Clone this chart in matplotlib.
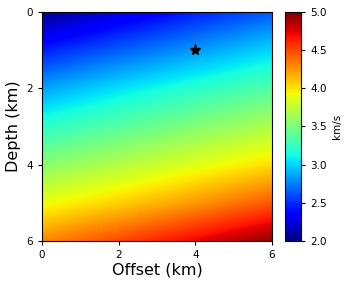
import matplotlib
matplotlib.use("Agg")
import matplotlib.pyplot as plt
import numpy as np

# velocity at grid nodes (km/s); rows = depth, cols = offset
offset_nodes = [0, 2, 4, 6]
depth_nodes = [0, 1, 2, 3, 4, 5, 6]
velocity = [
    [2.02, 2.24, 2.45, 2.63],
    [2.45, 2.64, 2.82, 3.00],
    [2.85, 3.03, 3.19, 3.34],
    [3.20, 3.36, 3.52, 3.68],
    [3.54, 3.70, 3.86, 4.02],
    [3.90, 4.06, 4.24, 4.45],
    [4.30, 4.50, 4.72, 4.95],
]
source_x = [4.0]
source_z = [1.0]
cbar_ticks = [2.0, 2.5, 3.0, 3.5, 4.0, 4.5, 5.0]

fig = plt.figure(figsize=(3.49, 2.89), dpi=100)
ax = fig.add_axes([0.1203, 0.1661, 0.659, 0.7924])
cax = fig.add_axes([0.8166, 0.1661, 0.0458, 0.7924])

# node spacing so pixel centres sit on the nodes
dx = offset_nodes[1] - offset_nodes[0]
dz = depth_nodes[1] - depth_nodes[0]
ext = [offset_nodes[0] - dx / 2, offset_nodes[-1] + dx / 2,
       depth_nodes[-1] + dz / 2, depth_nodes[0] - dz / 2]
im = ax.imshow(np.array(velocity), cmap="jet", vmin=2.0, vmax=5.0,
               extent=ext, interpolation="bilinear",
               interpolation_stage="data", aspect="auto")
ax.plot(source_x, source_z, marker="*", color="black", markersize=8,
        linestyle="none")

ax.set_xlim(0, 6)
ax.set_ylim(6, 0)
ax.set_xticks([0, 2, 4, 6])
ax.set_yticks([0, 2, 4, 6])
ax.tick_params(labelsize=7.5, length=3)
ax.set_xlabel("Offset (km)", fontsize=11.5, labelpad=2)
ax.set_ylabel("Depth (km)", fontsize=11.5, labelpad=4)

cb = fig.colorbar(im, cax=cax, ticks=cbar_ticks)
cb.ax.tick_params(labelsize=7.5, length=3)
cb.set_label("km/s", fontsize=7.5)

fig.savefig("out.png", dpi=100)
